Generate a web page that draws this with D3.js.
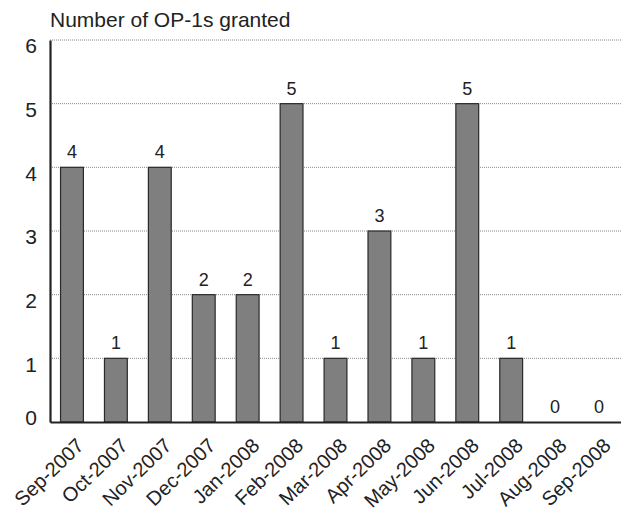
<!DOCTYPE html>
<html><head><meta charset="utf-8">
<script src="https://cdn.jsdelivr.net/npm/d3@7"></script>
<style>body{margin:0;background:#fff}svg{display:block}text{font-family:"Liberation Sans",Arial,sans-serif;fill:#222}</style>
</head><body>
<script>
const categories = ["Sep-2007","Oct-2007","Nov-2007","Dec-2007","Jan-2008","Feb-2008","Mar-2008","Apr-2008","May-2008","Jun-2008","Jul-2008","Aug-2008","Sep-2008"];
const values = [4,1,4,2,2,5,1,3,1,5,1,0,0];
const yTicks = [0,1,2,3,4,5,6];
const title = "Number of OP-1s granted";

const W = 621, H = 513;
const m = {left:50, right:0, top:40, bottom:91};
const svg = d3.select("body").append("svg").attr("width",W).attr("height",H);
const x = d3.scaleBand().domain(categories).range([m.left, W-m.right]).paddingInner(0.48).paddingOuter(0.24);
const y = d3.scaleLinear().domain([0,6]).range([H-m.bottom, m.top]);

// gridlines
svg.append("g").selectAll("line").data(yTicks.filter(d=>d>0)).join("line")
  .attr("x1",m.left).attr("x2",W-m.right).attr("y1",d=>y(d)).attr("y2",d=>y(d))
  .attr("stroke","#888").attr("stroke-width",1).attr("stroke-dasharray","1,1");

// bars
svg.append("g").selectAll("rect").data(values.map((v,i)=>({c:categories[i],v})).filter(d=>d.v>0)).join("rect")
  .attr("x",d=>x(d.c)).attr("width",x.bandwidth())
  .attr("y",d=>y(d.v)).attr("height",d=>y(0)-y(d.v))
  .attr("fill","#7f7f7f").attr("stroke","#2a2a2a").attr("stroke-width",1.2);

// value labels
svg.append("g").selectAll("text").data(values.map((v,i)=>({c:categories[i],v}))).join("text")
  .attr("x",d=>x(d.c)+x.bandwidth()/2).attr("y",d=>y(d.v)-9)
  .attr("text-anchor","middle").attr("font-size",18).text(d=>d.v);

// y axis
const ya = d3.axisLeft(y).tickValues(yTicks).tickSize(0).tickPadding(13).tickFormat(d3.format("d"));
const gy = svg.append("g").attr("transform",`translate(${m.left},0)`).call(ya);
gy.select(".domain").attr("stroke","#222").attr("stroke-width",2.2);
gy.selectAll("text").attr("font-size",21).style("font-family","Liberation Sans, Arial, sans-serif").attr("fill","#222")
  .attr("y",d=>d>0?6:-4);

// x axis
const xa = d3.axisBottom(x).tickSize(0).tickPadding(0);
const gx = svg.append("g").attr("transform",`translate(0,${y(0)})`).call(xa);
gx.select(".domain").attr("stroke","#222").attr("stroke-width",2.2);
gx.selectAll("text").attr("font-size",20).style("font-family","Liberation Sans, Arial, sans-serif").attr("fill","#222")
  .attr("text-anchor","end").attr("dy",null).attr("y",0)
  .attr("transform","translate(13,25) rotate(-44)");

svg.append("text").attr("x",50).attr("y",27).attr("font-size",21).text(title);
</script>
</body></html>
